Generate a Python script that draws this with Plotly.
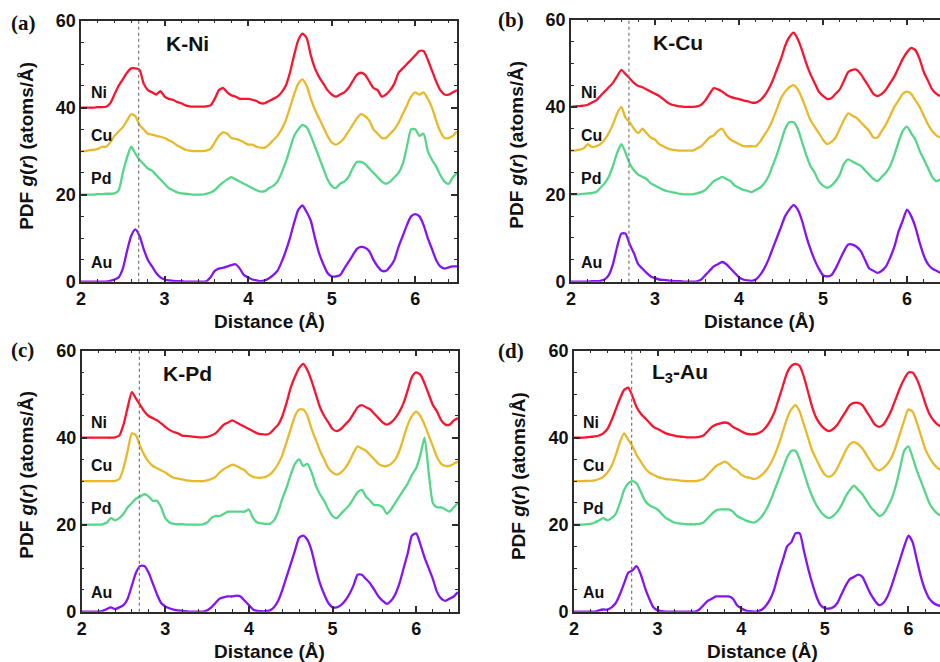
import plotly.graph_objects as go

# r grid (Å)
R = [2.00, 2.05, 2.10, 2.15, 2.20, 2.25, 2.30, 2.35, 2.40, 2.45,
     2.50, 2.55, 2.60, 2.65, 2.70, 2.75, 2.80, 2.85, 2.90, 2.95,
     3.00, 3.05, 3.10, 3.15, 3.20, 3.25, 3.30, 3.35, 3.40, 3.45,
     3.50, 3.55, 3.60, 3.65, 3.70, 3.75, 3.80, 3.85, 3.90, 3.95,
     4.00, 4.05, 4.10, 4.15, 4.20, 4.25, 4.30, 4.35, 4.40, 4.45,
     4.50, 4.55, 4.60, 4.65, 4.70, 4.75, 4.80, 4.85, 4.90, 4.95,
     5.00, 5.05, 5.10, 5.15, 5.20, 5.25, 5.30, 5.35, 5.40, 5.45,
     5.50, 5.55, 5.60, 5.65, 5.70, 5.75, 5.80, 5.85, 5.90, 5.95,
     6.00, 6.05, 6.10, 6.15, 6.20, 6.25, 6.30, 6.35, 6.40, 6.45,
     6.50]

series_names = ["Ni", "Cu", "Pd", "Au"]
series_colors = ["#f8152f", "#e8b92b", "#55d688", "#8314f5"]
panel_titles = ["K-Ni", "K-Cu", "K-Pd", "L<sub>3</sub>-Au"]
panel_tags = ["(a)", "(b)", "(c)", "(d)"]
label_y = [43.4, 33.5, 23.7, 4.5]
x_ticks = [2, 3, 4, 5, 6]
y_ticks = [0, 20, 40, 60]

# ---- panel (a) K-Ni ----
a_Ni = [40, 40, 40, 40, 40.1, 40.1, 40.2, 41, 43, 45,
        46.5, 48, 49, 49, 48.7, 45.5, 44, 43.5, 43, 43.8,
        42.5, 42, 41.8, 41.3, 41, 40.5, 40.3, 40.2, 40.2, 40.2,
        40.3, 40.5, 42, 44, 44.5, 43.5, 42.8, 42.5, 42, 42,
        42, 41.8, 41.5, 41, 41, 41.5, 42, 42.5, 43.5, 45,
        48, 52, 55.5, 57, 56, 52, 49, 47, 45.5, 44,
        43, 42.5, 43, 43.5, 44.5, 46, 47.5, 48, 47.5, 46,
        44.5, 44, 42.5, 43, 44, 45.5, 48, 49, 50, 51,
        52, 53, 53, 51, 48.5, 46, 44, 43, 43, 43.5,
        44]
a_Cu = [30, 30, 30.2, 30.3, 30.5, 31, 31, 32, 33.5, 34.5,
        35.5, 37, 38.5, 38, 36, 35, 34, 33.8, 33.5, 33.3,
        33, 32.5, 32, 31.3, 30.8, 30.3, 30.1, 30, 30, 30,
        30.1, 30.5, 32, 33.5, 34.3, 34, 33, 32.8, 32.5, 32,
        31.5, 31.5, 31, 30.8, 30.8, 31.5, 32.5, 33.5, 35, 37,
        40, 43, 45.5, 46.5, 45, 42, 39.5, 37.5, 35.5, 33.5,
        32, 31.5, 32, 33, 34.5, 36, 37.5, 38.5, 38, 37,
        35, 34, 33, 33, 34, 35, 36.5, 38.5, 40.5, 42.5,
        43.5, 43, 43.5, 42, 40, 37, 34.5, 33, 33, 33.5,
        34.5]
a_Pd = [20, 20, 20, 20, 20.1, 20.1, 20.2, 20.2, 20.3, 21,
        25, 28.5, 31, 29.5, 28, 27, 26, 25.5, 24.5, 23.5,
        22.5, 21.5, 21, 20.5, 20.3, 20.2, 20.1, 20, 20, 20,
        20.2, 20.5, 21, 22, 22.8, 23.5, 24, 23.5, 23, 22.5,
        22, 21.5, 21, 20.7, 20.8, 21.5, 22, 23, 25, 27.5,
        30.5, 33.5, 35, 36, 35.5, 33.5, 31, 28.5, 26, 23.5,
        22, 21.5, 22.5, 23, 24, 26, 27.5, 27.5, 27, 26,
        25, 24, 23, 22.5, 23, 24, 25, 27, 31, 35,
        35, 33.5, 34, 30, 28, 26.5, 24.5, 23, 22.5, 24,
        25]
a_Au = [0, 0, 0, 0, 0, 0, 0, 0.2, 0.5, 1,
        3, 7, 10.5, 12, 10.5, 7.5, 5, 3.5, 2, 1,
        0.5, 0.3, 0.2, 0.1, 0.1, 0, 0, 0, 0, 0,
        0.1, 1, 2.5, 3, 3.2, 3.5, 3.8, 4, 3, 1.5,
        1, 0.5, 0.3, 0.1, 0.3, 0.8, 1.5, 2.5, 4.5, 7,
        10, 13.5, 16.5, 17.5, 16, 14, 10, 6.5, 4, 2,
        1.2, 1.2, 1.5, 3, 4.5, 6, 7.5, 8, 7.8, 7,
        5, 3.5, 2.5, 2.5, 3.5, 5, 8, 10.5, 13, 15,
        15.5, 15, 13, 10, 7.5, 5, 3.5, 3, 3.3, 3.5,
        3.5]

# ---- panel (b) K-Cu ----
b_Ni = [40, 40.1, 40.2, 40.3, 40.5, 41, 41.5, 42.5, 43.5, 44.5,
        45.5, 47, 48.5, 47.5, 46.5, 45.5, 44.8, 44.5, 44, 43.5,
        43, 42.5, 41.8, 41, 40.5, 40.3, 40.1, 40, 40, 40,
        40.1, 40.5, 41.5, 43, 44.3, 44, 43.5, 42.8, 42.3, 42,
        41.8, 41.5, 41.3, 41, 41, 41.5, 42.5, 44, 46, 48.5,
        51, 54, 56, 57, 55.5, 53, 50, 47.5, 45.5, 43.5,
        42.5, 41.8, 42, 43, 44, 46, 48, 48.5, 48.5, 47.5,
        46, 44.5, 43, 42.5, 43, 44, 45.5, 47, 49, 51,
        52.5, 53.5, 53, 51, 48, 46, 44, 43, 42.5, 42.5,
        42.5]
b_Cu = [30, 30, 30.2, 30.5, 31.5, 30.8, 31, 31.5, 32.5, 34,
        36, 38.5, 40, 37.5, 36.5, 35, 34, 35, 34, 33,
        32.5, 31.5, 31, 30.5, 30.2, 30.1, 30, 30, 30, 30,
        30.5, 31, 32, 33, 33.5, 34.5, 35, 33.5, 32.5, 32,
        31.5, 31, 31, 31, 31, 32, 33.5, 35, 37, 39.5,
        42, 43.5, 44.5, 45, 44, 42, 39.5, 37, 35.5, 34,
        32.5, 31.5, 32, 33, 35, 37, 38.5, 38, 37.5, 36.5,
        35.5, 34.5, 33, 33, 34.5, 36, 38, 40, 41.5, 43,
        43.5, 43, 41.5, 40, 38, 36, 34.5, 33.5, 33, 33,
        33]
b_Pd = [20, 20, 20, 20.1, 20.2, 20.3, 20.5, 21.5, 22.5, 24,
        26.5, 29.5, 31.5, 29.5, 27, 25.5, 24.5, 24, 23.5, 22.5,
        22, 21.5, 21, 20.7, 20.5, 20.3, 20.1, 20, 20, 20,
        20.2, 20.5, 21, 22, 23, 23.5, 24, 23.5, 23, 22,
        21.5, 21, 20.8, 20.5, 21, 21.5, 22.5, 24, 26.5, 29,
        32, 35, 36.5, 36.5, 35, 32, 29, 26.5, 25, 23,
        22, 21.5, 22, 23, 24.5, 27, 28, 27.5, 27, 26.5,
        25.5, 24.5, 23.5, 23, 24, 25, 26.5, 29, 32, 34.5,
        35.5, 34, 32.5, 30, 28, 26, 24, 23, 23.5, 24,
        24]
b_Au = [0, 0, 0, 0, 0, 0.1, 0.1, 0.2, 0.5, 1.5,
        4, 8, 11, 11, 8.5, 6.5, 4, 3, 2, 1.2,
        0.8, 0.5, 0.4, 0.3, 0.2, 0.1, 0.1, 0, 0, 0,
        0.1, 0.5, 1.5, 2.5, 3.5, 4, 4.5, 4, 3, 2,
        1, 0.5, 0.3, 0.2, 0.5, 1.5, 3, 5, 7.5, 10,
        12.5, 15, 16.5, 17.5, 16.5, 14, 10.5, 7.5, 5, 3,
        1.5, 1.2, 1.5, 3, 5, 7, 8.5, 8.5, 8, 7,
        5, 3, 2.5, 2, 2.5, 3.5, 5.5, 8, 11.5, 14,
        16.5, 15, 12.5, 9, 6, 4, 3, 2.5, 2, 2,
        2]

# ---- panel (c) K-Pd ----
c_Ni = [40, 40, 40, 40, 40, 40, 40, 40, 40.1, 40.5,
        43, 47, 50.5, 49, 47.5, 46, 45, 44.5, 44, 43.3,
        42.5, 41.8, 41.3, 41, 40.5, 40.4, 40.3, 40.2, 40.1, 40.1,
        40.2, 40.5, 41, 42, 43, 43.5, 44, 43.5, 43, 42.5,
        42, 41.5, 41, 40.8, 40.7, 41, 42, 43, 45, 48,
        51.5, 54, 56, 57, 55.5, 53, 50, 47, 45, 43.5,
        42, 41.5, 42, 43, 44, 45.5, 47, 47.5, 47, 46.5,
        45.5, 44.5, 43.5, 43, 43.5, 44.5, 46, 48, 51, 54,
        55, 54.5, 52.5, 50, 47.5, 46, 44, 43, 43, 44,
        44.5]
c_Cu = [30, 30, 30, 30, 30, 30, 30, 30, 30.1, 30.5,
        33, 37, 41, 40.5, 38, 36, 34.5, 33.5, 33, 32.5,
        32, 31.3, 30.8, 30.6, 30.4, 30.2, 30.1, 30, 30, 30,
        30.2, 30.5, 31, 32, 32.8, 33.3, 33.8, 33.5, 33, 32.5,
        31.5, 31, 30.8, 30.8, 31, 31.5, 32.5, 34, 36, 39,
        42, 45, 46.5, 46.5, 45, 42, 39.5, 37, 35, 33,
        32, 31.5, 32, 33, 34.5, 36.5, 38, 37.5, 37, 36,
        35, 34, 33.5, 33.5, 34, 35, 37, 40, 43, 45,
        46, 45, 43, 40.5, 38, 35.5, 34, 33.5, 33.5, 34,
        34.5]
c_Pd = [20, 20, 20, 20, 20, 20.1, 20.5, 21.5, 21, 21.5,
        22.5, 24, 25, 26, 26.5, 27, 26.5, 25.5, 25.5, 24,
        21.5, 20.5, 20.2, 20.1, 20.1, 20, 20, 20, 20, 20.1,
        20.5, 21.5, 22, 22, 22.5, 23, 23, 23, 23, 23,
        23.5, 21.5, 20.5, 20.3, 20.2, 20.2, 21, 23, 26, 28.5,
        31.5, 34, 35, 33.5, 34, 32, 29, 27, 25.5, 23.5,
        22, 21.5, 22.5, 23.5, 24.5, 26, 27.5, 28, 26.5, 25.5,
        24.5, 24.5, 24, 22.5, 23.5, 25, 26.5, 28, 29.5, 31.5,
        33, 36, 40, 32, 25, 24, 24, 23.5, 23, 24,
        25]
c_Au = [0, 0, 0, 0, 0, 0.2, 0.6, 1, 0.6, 1,
        1.5, 3, 6, 9, 10.5, 10.5, 9, 6.5, 4, 2,
        1.2, 0.8, 0.5, 0.3, 0.2, 0.1, 0, 0, 0, 0,
        0.3, 1, 2, 3, 3.3, 3.5, 3.5, 3.7, 3.5, 2.5,
        1.5, 0.5, 0.2, 0.1, 0.1, 0.3, 1, 2.5, 5, 8,
        11, 14, 17, 17.5, 16.5, 14, 10, 6.5, 4, 2,
        1, 1, 1.5, 2.5, 4, 6, 8.5, 8.5, 7.5, 6.5,
        5, 3.5, 2.5, 1.8, 2.5, 4, 6.5, 10, 13.5, 17.5,
        18, 15.5, 12.5, 10, 7.5, 4.5, 3, 2.5, 3, 3.5,
        4.5]

# ---- panel (d) L3-Au ----
d_Ni = [40, 40, 40, 40.1, 40.2, 40.3, 40.5, 41, 42, 44,
        46.5, 49, 51, 51.5, 49.5, 47, 45.5, 44.5, 43.5, 42.5,
        42, 41.5, 41, 40.7, 40.5, 40.3, 40.2, 40.1, 40.1, 40.1,
        40.2, 40.5, 41.5, 42.5, 43, 43.3, 43.5, 43.3, 42.5, 42,
        41.5, 41, 40.8, 40.8, 41, 41.5, 42.5, 44, 46, 49,
        52, 55, 56.5, 57, 56.5, 54, 50.5, 47, 44.5, 43,
        42, 41.5, 42, 43, 44.5, 46, 47.5, 48, 48, 47.5,
        46, 44.5, 43, 42.5, 43, 44.5, 46.5, 49, 51.5, 53.5,
        55, 55, 53.5, 51, 48, 45.5, 44, 43, 42.5, 42.5,
        42.5]
d_Cu = [30, 30, 30, 30.1, 30.1, 30.2, 30.5, 31, 32, 33.5,
        36, 39, 41, 39.5, 38, 36, 34.5, 33, 32, 31.5,
        31, 30.7, 30.5, 30.4, 30.3, 30.2, 30.1, 30, 30, 30,
        30.2, 30.5, 31.5, 32.5, 33.5, 34, 34.5, 34, 33, 32.5,
        31.5, 31, 30.8, 30.5, 30.8, 31.5, 32.5, 34, 36, 38.5,
        41.5, 44.5, 46.5, 47.5, 46, 43, 40, 37, 35, 33,
        31.5, 31, 31.5, 33, 35, 37, 38.5, 39, 38.5, 37.5,
        36, 34.5, 33, 32.5, 33, 34, 35.5, 38, 41, 44,
        46.5, 46, 43.5, 40.5, 37.5, 35.5, 34, 33, 32.5, 32.5,
        32.5]
d_Pd = [20, 20, 20, 20.1, 20.2, 20.5, 21, 21.5, 21, 21.5,
        22.5, 25, 28, 29.5, 30, 29.5, 27.5, 25.5, 24.5, 24,
        23.5, 22.5, 21.5, 21, 20.5, 20.3, 20.2, 20.1, 20.1, 20.1,
        20.2, 20.5, 21.5, 22.5, 23.3, 23.5, 23.5, 23.5, 23, 22,
        21.5, 21, 20.7, 20.5, 21, 22, 23.5, 25.5, 28, 30.5,
        33, 35.5, 37, 37, 35, 32, 29, 26.5, 24.5, 23,
        22, 21.5, 22, 23, 24.5, 26.5, 28, 29, 28, 27,
        25.5, 24, 23, 22, 22.5, 24, 26, 29, 33, 37,
        38, 35.5, 32.5, 30, 27.5, 25, 23.5, 22.5, 22, 22,
        22]
d_Au = [0, 0, 0, 0, 0, 0, 0.3, 0.5, 0.5, 1,
        2, 4, 6.5, 9, 9.5, 10.5, 8.5, 5.5, 3, 1,
        0.3, 0.1, 0, 0, 0, 0, 0, 0, 0, 0,
        0.5, 1.5, 2.5, 3, 3.5, 3.5, 3.5, 3.5, 3, 1.5,
        0.8, 0.3, 0.1, 0, 0.1, 0.5, 1.5, 3, 5.5, 9,
        12, 15, 16, 18, 18, 14, 10, 6.5, 3.5, 1.5,
        0.8, 0.7, 1, 2, 4, 6, 7.5, 8, 8.5, 8,
        6, 4, 2.5, 1.5, 2, 3.5, 6, 9, 12, 15,
        17.5, 16, 12, 8, 5, 3, 2, 1.5, 1.2, 1,
        1]

panels = [
    [a_Ni, a_Cu, a_Pd, a_Au],
    [b_Ni, b_Cu, b_Pd, b_Au],
    [c_Ni, c_Cu, c_Pd, c_Au],
    [d_Ni, d_Cu, d_Pd, d_Au],
]
dotted_r = 2.69

# ---- layout geometry (paper coords) ----
x_domains = [[0.0862, 0.4862], [0.6074, 1.0], [0.0869, 0.4872], [0.6106, 1.0]]
y_domains = [[0.5745, 0.969], [0.5745, 0.9705], [0.076, 0.4702], [0.076, 0.4702]]
x_ranges = [[2, 6.5], [2, 6.393], [2, 6.5], [2, 6.378]]
full_frame = [True, False, True, False]
xtitle_pos = [(0.2862, 0.5136), (0.8085, 0.5136), (0.2868, 0.0156), (0.8112, 0.0156)]
ytitle_pos = [(0.0287, 0.7797), (0.5497, 0.781), (0.0284, 0.2825), (0.5514, 0.2813)]
tag_pos = [(0.0245, 0.966), (0.5436, 0.9698), (0.0239, 0.4713), (0.5434, 0.470)]

FONT = "Liberation Sans, Arial, sans-serif"
AXC = "#2b2b2b"

fig = go.Figure()
annotations = []
shapes = []
layout = {}

for p in range(4):
    sfx = "" if p == 0 else str(p + 1)
    xa, ya = "x" + sfx, "y" + sfx
    for s in range(4):
        fig.add_trace(go.Scatter(
            x=R, y=panels[p][s], mode="lines", xaxis=xa, yaxis=ya,
            line=dict(color=series_colors[s], width=2.3, shape="spline", smoothing=0.6),
            showlegend=False, hoverinfo="skip"))
    layout["xaxis" + sfx] = dict(
        domain=x_domains[p], range=x_ranges[p], anchor=ya, automargin=False,
        tickvals=x_ticks, ticks="inside", ticklen=6, tickwidth=1.5, tickcolor=AXC,
        minor=dict(dtick=0.2, tick0=2, ticks="inside", ticklen=3, tickwidth=1, tickcolor=AXC),
        showline=True, linecolor=AXC, linewidth=1.5, mirror="ticks",
        showgrid=False, zeroline=False, ticklabelstandoff=0,
        tickfont=dict(family=FONT, size=18, color="#111", weight="bold"))
    layout["yaxis" + sfx] = dict(
        domain=y_domains[p], range=[0, 60], anchor=xa, automargin=False,
        tickvals=y_ticks, ticks="inside", ticklen=6, tickwidth=1.5, tickcolor=AXC,
        minor=dict(dtick=5, tick0=0, ticks="inside", ticklen=3, tickwidth=1, tickcolor=AXC),
        showline=True, linecolor=AXC, linewidth=1.5,
        mirror="ticks" if full_frame[p] else False,
        showgrid=False, zeroline=False, ticklabelstandoff=0,
        tickfont=dict(family=FONT, size=18, color="#111", weight="bold"))
    # series labels
    for s in range(4):
        annotations.append(dict(
            x=2.09, y=label_y[s], xref=xa, yref=ya, xanchor="left", yanchor="middle",
            text="<b>" + series_names[s] + "</b>", showarrow=False,
            font=dict(family=FONT, size=16, color="#111")))
    # panel title
    annotations.append(dict(
        x=3.27, y=54.8, xref=xa, yref=ya, xanchor="center", yanchor="middle",
        text="<b>" + panel_titles[p] + "</b>", showarrow=False,
        font=dict(family=FONT, size=21, color="#111")))
    # axis titles
    annotations.append(dict(
        x=xtitle_pos[p][0], y=xtitle_pos[p][1], xref="paper", yref="paper",
        xanchor="center", yanchor="middle", text="<b>Distance (Å)</b>", showarrow=False,
        font=dict(family=FONT, size=19, color="#111")))
    annotations.append(dict(
        x=ytitle_pos[p][0], y=ytitle_pos[p][1], xref="paper", yref="paper",
        xanchor="center", yanchor="middle", textangle=-90,
        text="<b>PDF <i>g</i>(<i>r</i>) (atoms/Å)</b>", showarrow=False,
        font=dict(family=FONT, size=19, color="#111")))
    # panel tag
    annotations.append(dict(
        x=tag_pos[p][0], y=tag_pos[p][1], xref="paper", yref="paper",
        xanchor="center", yanchor="middle", text="<b>" + panel_tags[p] + "</b>",
        showarrow=False, font=dict(family="Liberation Serif, Times New Roman, serif", size=21, color="#111")))
    # dotted reference line
    shapes.append(dict(type="line", xref=xa, yref=ya, x0=dotted_r, x1=dotted_r, y0=0, y1=60,
                       line=dict(color="#777", width=1.2, dash="dot")))

fig.update_layout(
    width=940, height=662, margin=dict(l=0, r=0, t=0, b=0, autoexpand=False),
    paper_bgcolor="white", plot_bgcolor="white",
    annotations=annotations, shapes=shapes, **layout)

fig.write_html("out.html",
               config={"displayModeBar": False},
               post_script="document.body.style.margin='0';document.body.style.overflow='hidden';")
